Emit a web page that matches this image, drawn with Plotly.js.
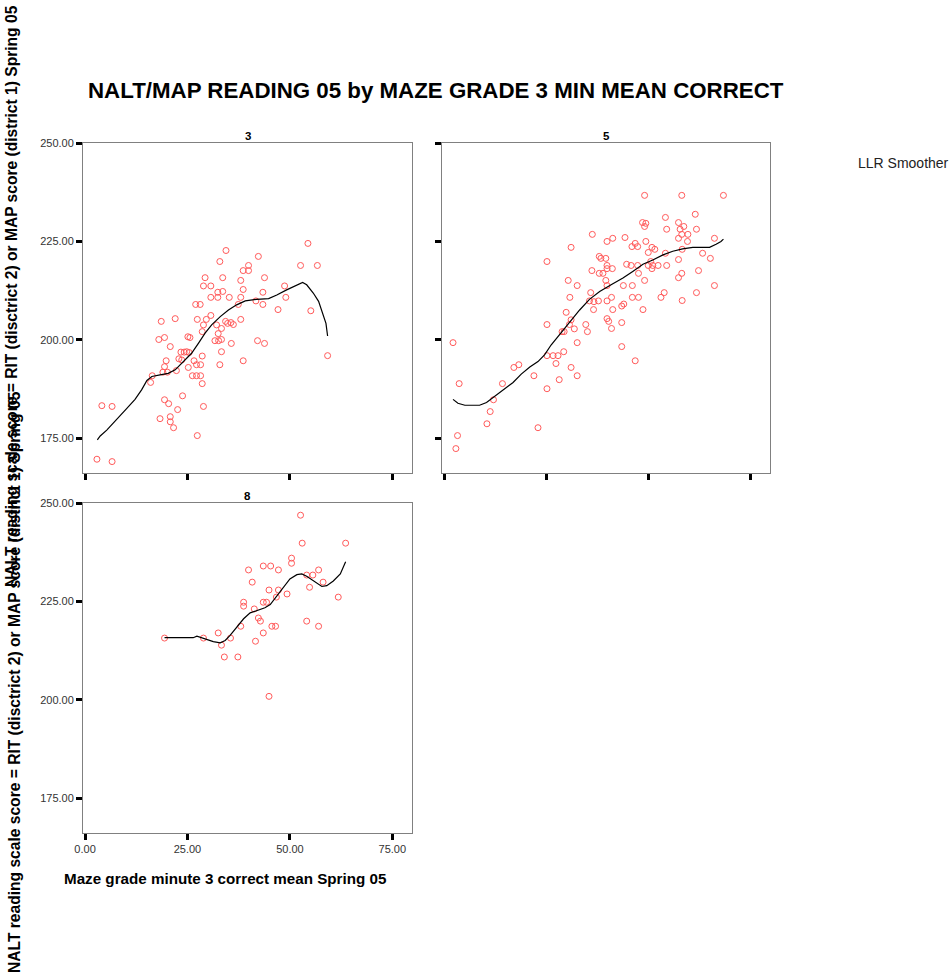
<!DOCTYPE html>
<html>
<head>
<meta charset="utf-8">
<script src="https://cdn.plot.ly/plotly-3.0.1.min.js"></script>
<style>html,body{margin:0;padding:0;background:#fff;}#chart{width:952px;height:977px;}</style>
</head>
<body>
<div id="chart"></div>
<script>
// ---- Data ----
var chartTitle = "NALT/MAP READING 05 by MAZE GRADE 3 MIN MEAN CORRECT";
var panelNames = ["3", "5", "8"];
var xTitle = "Maze grade minute 3 correct mean Spring 05";
var yTitle = "NALT reading scale score = RIT (disctrict 2) or MAP score (district 1) Spring 05";
var legendLabel = "LLR Smoother";
var xTicks = [0, 25, 50, 75];
var yTicks = [175, 200, 225, 250];

var g3X = [2.9,6.6,4.1,6.6,27.4,21.6,20.8,20.8,18.3,22.6,19.4,20.4,23.8,28.9,16.0,16.4,19.0,20.1,19.4,19.8,22.3,22.9,23.4,24.2,24.8,25.4,23.6,20.8,18.0,19.4,18.6,22.0,25.1,25.6,25.2,26.2,27.2,28.2,28.6,26.6,27.2,28.2,28.6,28.6,28.9,29.6,30.7,27.4,27.0,28.1,28.9,30.7,29.3,30.7,32.4,32.4,33.6,35.2,33.6,32.9,34.4,32.1,33.3,32.5,31.7,32.6,33.3,33.3,32.9,34.3,34.8,35.6,36.2,35.7,38.0,37.4,38.0,38.6,38.0,38.6,39.9,39.9,42.3,38.6,41.7,43.4,43.8,43.4,42.1,43.8,47.1,48.7,49.0,52.6,54.4,56.7,55.1,59.2];
var g3Y = [169.7,169.1,183.3,183.1,175.7,177.7,179.2,180.5,180.0,182.3,184.8,183.8,185.8,183.1,189.2,190.9,191.8,191.8,193.2,194.7,192.2,195.2,196.9,196.9,197.0,196.8,194.9,198.3,200.1,200.6,204.7,205.4,200.8,200.6,193.0,190.9,190.9,190.9,188.9,194.7,193.7,193.7,195.9,202.1,203.8,205.2,206.2,205.2,209.0,209.0,213.7,213.7,215.8,210.8,210.8,212.1,212.3,210.8,215.8,219.9,222.7,203.8,202.9,201.6,199.8,199.8,200.1,197.0,193.7,204.7,204.2,204.4,203.9,199.1,205.2,209.0,210.8,212.8,215.1,217.6,217.6,218.9,221.2,194.7,209.9,212.1,215.8,209.0,199.8,199.1,207.7,213.7,210.8,218.9,224.5,218.9,207.4,196.0];
var g3SmoothX = [3.0,3.7,5.3,7.7,10.2,12.2,13.8,15.1,16.3,18.3,20.3,22.0,24.0,26.0,27.7,29.3,30.9,33.0,35.0,37.0,39.1,41.9,44.8,46.8,49.2,51.7,53.1,54.1,55.7,57.0,58.2,58.8,59.2];
var g3SmoothY = [174.6,175.6,177.1,179.7,182.6,184.9,187.3,189.7,190.7,191.1,191.5,192.4,194.5,196.6,199.2,201.7,203.8,205.9,207.6,208.9,209.9,210.3,210.5,211.4,212.7,214.0,214.6,214.0,211.9,209.8,205.9,204.2,201.0];

var g5X = [2.2,3.7,3.3,2.9,12.1,11.3,10.5,14.3,17.1,18.3,22.0,23.0,25.2,25.2,25.2,25.2,26.7,27.9,27.4,28.2,29.3,28.9,29.4,30.7,31.1,29.9,30.8,30.4,31.1,32.6,31.9,32.6,31.1,32.6,34.7,35.1,35.9,35.6,36.7,36.6,36.2,36.3,37.8,38.0,38.9,38.0,38.4,39.6,39.9,39.9,41.2,39.6,39.9,39.9,41.0,41.3,39.9,40.3,41.0,39.9,41.3,44.3,43.5,44.0,43.5,43.5,43.9,44.7,45.8,46.1,46.1,47.6,46.8,48.7,49.1,47.6,47.4,46.0,46.8,47.4,49.4,48.6,49.4,49.1,49.1,50.0,50.9,51.6,50.6,50.0,51.1,50.9,52.4,53.1,53.9,54.2,54.5,54.2,54.5,57.4,57.8,58.7,58.2,59.7,59.6,57.4,58.3,57.4,58.2,57.4,58.3,58.2,61.5,61.8,63.3,62.3,61.8,65.2,66.2,66.2,68.4];
var g5Y = [199.3,188.9,175.7,172.4,184.8,181.8,178.7,188.9,193.0,193.7,190.9,177.7,203.9,219.9,196.0,187.6,196.0,196.0,194.0,189.9,197.0,202.1,202.1,203.9,205.1,207.0,210.8,215.1,223.5,213.8,202.8,199.3,193.0,190.9,203.9,202.1,212.0,209.9,209.7,207.7,217.6,226.8,209.9,216.9,216.9,221.2,220.7,220.7,218.9,218.1,218.1,215.1,213.8,209.9,210.8,207.7,205.4,204.7,202.9,225.0,225.8,226.0,208.6,209.1,204.4,198.3,213.8,219.2,218.9,213.8,210.8,210.8,194.7,207.7,215.1,216.9,218.9,223.7,224.5,223.7,225.0,229.8,229.6,228.8,236.7,222.2,223.5,223.0,219.9,218.9,218.9,218.1,218.9,210.8,212.0,231.1,228.1,222.0,218.9,229.8,228.1,228.8,226.8,226.8,225.0,225.8,223.0,220.4,216.9,215.8,210.0,236.7,231.9,228.1,222.0,217.6,212.0,220.7,225.8,213.8,236.7];
var g5SmoothX = [2.2,3.4,5.1,8.7,10.4,12.4,14.4,16.9,18.9,21.0,23.0,24.6,26.2,27.9,29.5,31.1,33.2,35.6,38.1,40.9,43.8,46.2,48.7,51.1,53.6,56.0,58.4,60.9,65.0,66.6,67.8,68.4];
var g5SmoothY = [184.9,183.9,183.4,183.4,184.1,185.6,187.3,189.2,191.3,193.1,194.5,196.2,198.7,200.9,203.0,205.1,207.6,210.3,212.3,214.0,215.7,217.4,219.2,220.3,221.6,222.5,223.1,223.5,223.5,224.3,225.0,225.6];

var g8X = [19.4,28.9,32.5,33.3,34.0,35.5,37.3,38.0,38.7,38.7,39.9,40.8,41.3,41.6,42.3,42.8,43.5,43.5,44.3,43.5,45.3,44.9,44.9,45.6,46.5,47.2,47.2,46.7,49.3,50.4,50.4,52.6,53.0,54.1,54.1,54.8,55.6,57.0,57.0,58.1,61.8,63.6];
var g8Y = [215.7,215.7,217.0,213.9,210.9,215.7,210.9,218.7,224.8,223.8,233.0,229.9,223.1,214.9,220.8,220.0,217.0,224.8,224.8,234.0,234.0,227.9,200.9,218.7,218.7,233.0,227.9,226.1,226.9,236.0,234.7,246.9,239.8,231.7,220.0,228.6,231.7,233.0,218.7,229.9,226.1,239.8];
var g8SmoothX = [19.4,26.4,27.3,28.1,29.7,31.3,33.0,34.2,35.4,37.0,38.7,40.3,42.3,43.9,45.2,46.4,47.6,48.8,50.0,51.7,52.9,54.1,55.3,56.6,57.8,59.0,60.6,62.3,63.6];
var g8SmoothY = [215.8,215.8,216.2,215.9,215.3,214.8,214.5,215.1,216.4,218.5,220.6,222.1,222.9,223.4,224.2,225.9,227.6,229.3,230.7,231.8,232.0,231.4,230.5,229.5,228.8,229.0,230.2,232.0,235.1];

// ---- Chart ----
var FONT = "Liberation Sans, Arial, Helvetica, sans-serif";
var W = 952, H = 977;
function px(x){ return x / W; }
function py(y){ return 1 - y / H; }

var markerStyle = {symbol: "circle-open", size: 6, color: "#ff5a5a", line: {width: 1, color: "#ff5a5a"}};
var lineStyle = {color: "#000", width: 1.2};

function scatter(x, y, xa, ya){
  return {x: x, y: y, xaxis: xa, yaxis: ya, type: "scatter", mode: "markers", marker: markerStyle, hoverinfo: "skip", cliponaxis: false};
}
function smooth(x, y, xa, ya){
  return {x: x, y: y, xaxis: xa, yaxis: ya, type: "scatter", mode: "lines", line: lineStyle, hoverinfo: "skip"};
}

var data = [
  scatter(g3X, g3Y, "x", "y"), smooth(g3SmoothX, g3SmoothY, "x", "y"),
  scatter(g5X, g5Y, "x2", "y2"), smooth(g5SmoothX, g5SmoothY, "x2", "y2"),
  scatter(g8X, g8Y, "x3", "y3"), smooth(g8SmoothX, g8SmoothY, "x3", "y3")
];

var xRange = [-0.5, 79.8];
var yRange = [166.2, 250];
function axisBase(){
  return {
    showline: true, linecolor: "#808080", linewidth: 1, mirror: true,
    ticks: "outside", ticklen: 6, tickwidth: 3, tickcolor: "#000",
    showgrid: false, zeroline: false, fixedrange: true,
    tickfont: {family: FONT, size: 11, color: "#333"}
  };
}
function xAx(domain, anchor, labels){
  var a = axisBase();
  a.domain = domain; a.anchor = anchor; a.range = xRange;
  a.tickmode = "array"; a.tickvals = xTicks; a.ticktext = xTicks.map(function(v){return v.toFixed(2);});
  a.showticklabels = labels;
  return a;
}
function yAx(domain, anchor, labels){
  var a = axisBase();
  a.domain = domain; a.anchor = anchor; a.range = yRange;
  a.tickmode = "array"; a.tickvals = yTicks; a.ticktext = yTicks.map(function(v){return v.toFixed(2);});
  a.showticklabels = labels;
  return a;
}

var col1 = [px(83), px(412)], col2 = [px(442), px(770)];
var row1 = [py(473), py(143)], row2 = [py(833), py(503)];

var ann = [];
ann.push({text: "<b>" + chartTitle + "</b>", xref: "paper", yref: "paper", x: px(86), y: py(90), xanchor: "left", yanchor: "middle", showarrow: false, font: {family: FONT, size: 22.3, color: "#000"}});
ann.push({text: "<b>" + panelNames[0] + "</b>", xref: "paper", yref: "paper", x: px(247.5), y: py(136), xanchor: "center", yanchor: "middle", showarrow: false, font: {family: FONT, size: 11.5, color: "#000"}});
ann.push({text: "<b>" + panelNames[1] + "</b>", xref: "paper", yref: "paper", x: px(606), y: py(136), xanchor: "center", yanchor: "middle", showarrow: false, font: {family: FONT, size: 11.5, color: "#000"}});
ann.push({text: "<b>" + panelNames[2] + "</b>", xref: "paper", yref: "paper", x: px(247.5), y: py(496), xanchor: "center", yanchor: "middle", showarrow: false, font: {family: FONT, size: 11.5, color: "#000"}});
ann.push({text: "<b>" + xTitle + "</b>", xref: "paper", yref: "paper", x: px(62), y: py(878), xanchor: "left", yanchor: "middle", showarrow: false, font: {family: FONT, size: 15.2, color: "#000"}});
ann.push({text: legendLabel, xref: "paper", yref: "paper", x: px(856), y: py(163), xanchor: "left", yanchor: "middle", showarrow: false, font: {family: FONT, size: 14, color: "#222"}});
ann.push({text: "<b>" + yTitle + "</b>", xref: "paper", yref: "paper", x: px(12), y: py(296), xanchor: "center", yanchor: "middle", textangle: -90, showarrow: false, font: {family: FONT, size: 15.6, color: "#000"}});
ann.push({text: "<b>" + yTitle + "</b>", xref: "paper", yref: "paper", x: px(14), y: py(682), xanchor: "center", yanchor: "middle", textangle: -90, showarrow: false, font: {family: FONT, size: 15.6, color: "#000"}});

var layout = {
  width: W, height: H,
  margin: {l: 0, r: 0, t: 0, b: 0, pad: 0},
  paper_bgcolor: "#fff", plot_bgcolor: "#fff",
  showlegend: false,
  font: {family: FONT, color: "#000"},
  xaxis: xAx(col1, "y", false),
  yaxis: yAx(row1, "x", true),
  xaxis2: xAx(col2, "y2", false),
  yaxis2: yAx(row1, "x2", false),
  xaxis3: xAx(col1, "y3", true),
  yaxis3: yAx(row2, "x3", true),
  annotations: ann
};

Plotly.newPlot("chart", data, layout, {staticPlot: true, displayModeBar: false});
</script>
</body>
</html>
